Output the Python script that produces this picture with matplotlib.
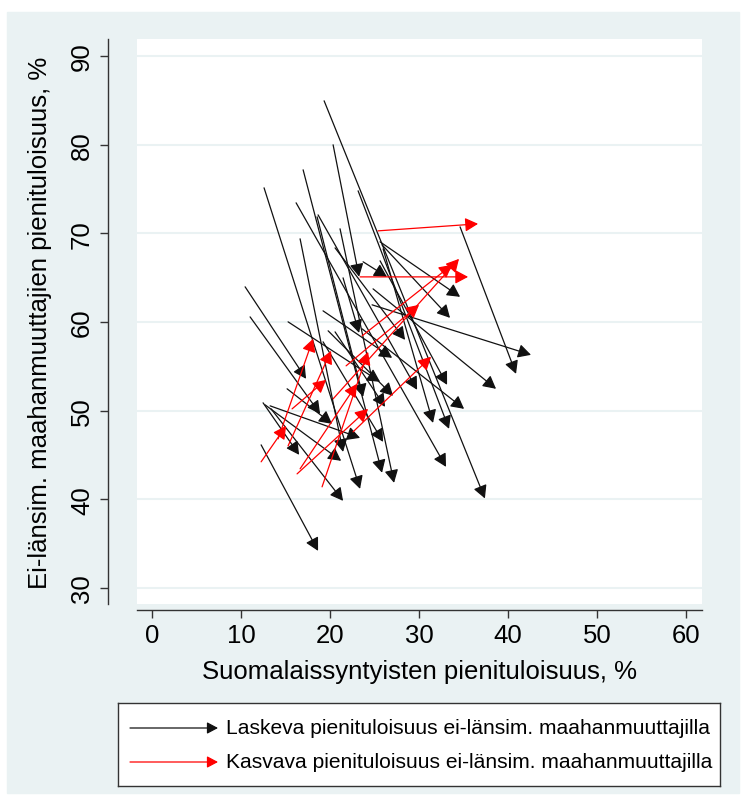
import matplotlib.pyplot as plt
from matplotlib.patches import Rectangle

# Low-income rates (%), start -> end, for areas where the rate among
# non-western immigrants fell (black) or rose (red)
fall_x0 = [19.33, 20.34, 16.97, 12.58, 16.18, 23.15, 18.54, 18.65, 20.56, 10.45,
           11.01, 15.28, 12.70, 13.37, 12.25, 23.71, 25.62, 25.84, 34.61, 24.72,
           24.83, 21.46, 19.21, 19.78, 20.56, 15.17, 13.26, 12.47, 19.21, 21.12,
           25.96, 23.60, 25.62, 16.63]
fall_y0 = [84.93, 79.97, 77.15, 75.12, 73.43, 74.78, 71.85, 72.07, 68.35, 63.96,
           60.57, 60.01, 50.65, 50.20, 46.14, 66.78, 69.03, 68.69, 70.72, 61.93,
           63.73, 64.97, 61.25, 59.00, 58.88, 52.46, 50.54, 50.88, 57.76, 70.50,
           68.24, 59.22, 66.89, 69.37]
fall_x1 = [37.40, 23.26, 25.84, 23.37, 33.03, 33.37, 23.71, 29.78, 28.43, 17.30,
           18.88, 25.62, 21.24, 21.46, 18.65, 26.40, 34.61, 33.48, 40.90, 42.58,
           38.65, 23.26, 26.97, 27.08, 26.18, 20.22, 23.37, 16.52, 25.96, 27.19,
           31.57, 35.06, 33.15, 21.46]
fall_y1 = [40.10, 65.10, 43.00, 41.18, 43.66, 47.95, 51.56, 52.35, 57.98, 53.59,
           49.64, 53.25, 44.34, 39.83, 34.19, 65.08, 62.83, 60.46, 54.15, 56.29,
           52.46, 58.77, 55.95, 51.67, 50.43, 48.51, 46.93, 45.02, 46.48, 41.86,
           48.62, 50.20, 52.91, 45.35]

rise_x0 = [25.39, 23.37, 23.60, 20.34, 21.80, 22.58, 19.10, 15.28, 14.16, 15.73,
           16.63, 16.29, 12.25]
rise_y0 = [70.27, 65.08, 58.43, 51.33, 55.05, 47.61, 41.41, 46.03, 46.82, 50.20,
           43.44, 42.87, 44.23]
rise_x1 = [36.63, 35.51, 33.71, 34.49, 30.00, 31.35, 24.27, 20.11, 18.09, 19.55,
           23.03, 24.27, 15.06]
rise_y1 = [71.06, 65.08, 66.44, 67.11, 61.93, 56.07, 56.63, 56.74, 58.10, 53.47,
           53.02, 50.20, 48.29]

legend_labels = ["Laskeva pienituloisuus ei-länsim. maahanmuuttajilla",
                 "Kasvava pienituloisuus ei-länsim. maahanmuuttajilla"]

plt.rcParams['font.family'] = ['Liberation Sans', 'DejaVu Sans']

BG = '#EAF2F3'
AXIS = '#333333'
ARROW = '-|>,head_length=0.6,head_width=0.32'


def draw_arrows(axis, x0, y0, x1, y1, color, scale=13):
    for a, b, c, d in zip(x0, y0, x1, y1):
        axis.annotate('', xy=(c, d), xytext=(a, b),
                      arrowprops=dict(arrowstyle=ARROW, color=color, lw=0.9,
                                      shrinkA=0, shrinkB=0, mutation_scale=scale))


fig = plt.figure(figsize=(7.48, 8.03), dpi=100)
fig.patches.append(Rectangle((7 / 748, 1 - 794 / 803), 732 / 748, 781 / 803,
                             transform=fig.transFigure, color=BG, zorder=-10))

ax = fig.add_axes([137 / 748, 1 - 605 / 803, 565 / 748, 565 / 803])
ax.set_xlim(-1.7, 61.8)
ax.set_ylim(28.2, 91.9)
ax.set_xticks(range(0, 61, 10))
ax.set_yticks(range(30, 91, 10))
ax.grid(axis='y', color=BG, lw=1.5)
ax.set_axisbelow(True)

draw_arrows(ax, fall_x0, fall_y0, fall_x1, fall_y1, '#111111')
draw_arrows(ax, rise_x0, rise_y0, rise_x1, rise_y1, 'red')

for side in ['top', 'right']:
    ax.spines[side].set_visible(False)
ax.spines['left'].set_position(('outward', 21))
ax.spines['bottom'].set_position(('outward', 4))
for side in ['left', 'bottom']:
    ax.spines[side].set_color(AXIS)
    ax.spines[side].set_linewidth(1.0)
ax.tick_params(direction='out', length=6, width=1, color=AXIS, labelsize=18.5, pad=4)
ax.tick_params(axis='y', labelrotation=90)
for lab in ax.get_yticklabels():
    lab.set_va('center')

ax.set_xlabel("Suomalaissyntyisten pienituloisuus, %", fontsize=18.5, labelpad=8)
ax.set_ylabel("Ei-länsim. maahanmuuttajien pienituloisuus, %", fontsize=18.5, labelpad=13)

# legend box below the plot
lax = fig.add_axes([118 / 748, 1 - 787 / 803, 602 / 748, 83 / 803])
lax.set_xlim(0, 602)
lax.set_ylim(83, 0)
lax.set_xticks([])
lax.set_yticks([])
for s in lax.spines.values():
    s.set_color(AXIS)
    s.set_linewidth(1.0)
for row, (label, color) in enumerate(zip(legend_labels, ['#111111', 'red'])):
    ypos = 25 + row * 34
    lax.annotate('', xy=(100, ypos), xytext=(12, ypos),
                 arrowprops=dict(arrowstyle=ARROW, color=color, lw=0.9,
                                 shrinkA=0, shrinkB=0, mutation_scale=11))
    lax.text(108, ypos, label, fontsize=15.1, va='center', ha='left')

fig.savefig('out.png', dpi=100, facecolor='white')
